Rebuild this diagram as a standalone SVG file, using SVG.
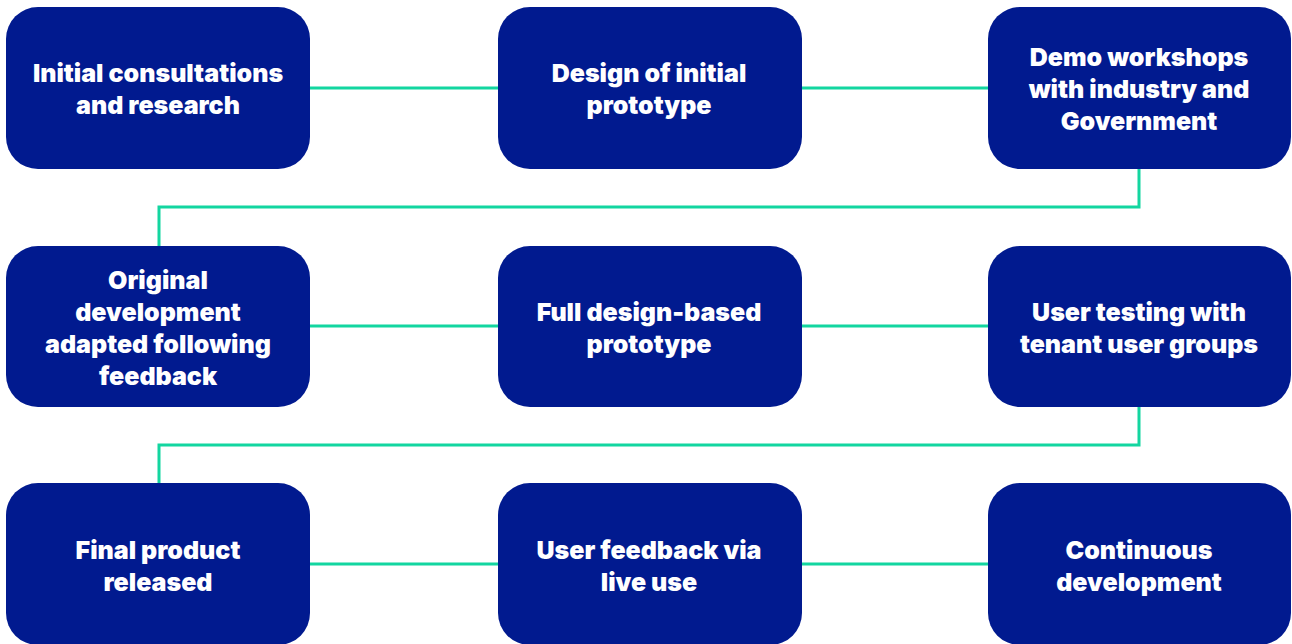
<svg xmlns="http://www.w3.org/2000/svg" width="1292" height="644" viewBox="0 0 1292 644">
  <style>
    .node rect { fill: #011a8f; }
    .node text { fill: #ffffff; font-family: Inter, "Open Sans", "DejaVu Sans", sans-serif; font-weight: 900; font-size: 25px; text-anchor: middle; }
    .link { fill: none; stroke: #13d6a0; stroke-width: 3; }
  </style>
  <rect width="1292" height="644" fill="#ffffff"/>

  <!-- connectors between steps -->
  <g id="connectors">
    <line class="link" x1="310" y1="88" x2="498" y2="88"/>
    <line class="link" x1="802" y1="88" x2="988" y2="88"/>
    <polyline class="link" points="1139,169 1139,207 159,207 159,246"/>
    <line class="link" x1="310" y1="326" x2="498" y2="326"/>
    <line class="link" x1="802" y1="326" x2="988" y2="326"/>
    <polyline class="link" points="1139,407 1139,445 159,445 159,483"/>
    <line class="link" x1="310" y1="564" x2="498" y2="564"/>
    <line class="link" x1="802" y1="564" x2="988" y2="564"/>
  </g>

  <!-- row 1 -->
  <g id="n1" class="node">
    <rect x="6" y="7" width="304" height="162" rx="32"/>
    <text x="158" y="82">Initial consultations</text>
    <text x="158" y="114">and research</text>
  </g>
  <g id="n2" class="node">
    <rect x="498" y="7" width="304" height="162" rx="32"/>
    <text x="649" y="82">Design of initial</text>
    <text x="649" y="114">prototype</text>
  </g>
  <g id="n3" class="node">
    <rect x="988" y="7" width="303" height="162" rx="32"/>
    <text x="1139" y="66">Demo workshops</text>
    <text x="1139" y="98">with industry and</text>
    <text x="1139" y="130">Government</text>
  </g>

  <!-- row 2 -->
  <g id="n4" class="node">
    <rect x="6" y="246" width="304" height="161" rx="32"/>
    <text x="158" y="289">Original</text>
    <text x="158" y="321">development</text>
    <text x="158" y="353">adapted following</text>
    <text x="158" y="385">feedback</text>
  </g>
  <g id="n5" class="node">
    <rect x="498" y="246" width="304" height="161" rx="32"/>
    <text x="649" y="321">Full design-based</text>
    <text x="649" y="353">prototype</text>
  </g>
  <g id="n6" class="node">
    <rect x="988" y="246" width="303" height="161" rx="32"/>
    <text x="1139" y="321">User testing with</text>
    <text x="1139" y="353">tenant user groups</text>
  </g>

  <!-- row 3 -->
  <g id="n7" class="node">
    <rect x="6" y="483" width="304" height="162" rx="32"/>
    <text x="158" y="559">Final product</text>
    <text x="158" y="591">released</text>
  </g>
  <g id="n8" class="node">
    <rect x="498" y="483" width="304" height="162" rx="32"/>
    <text x="649" y="559">User feedback via</text>
    <text x="649" y="591">live use</text>
  </g>
  <g id="n9" class="node">
    <rect x="988" y="483" width="303" height="162" rx="32"/>
    <text x="1139" y="559">Continuous</text>
    <text x="1139" y="591">development</text>
  </g>
</svg>
